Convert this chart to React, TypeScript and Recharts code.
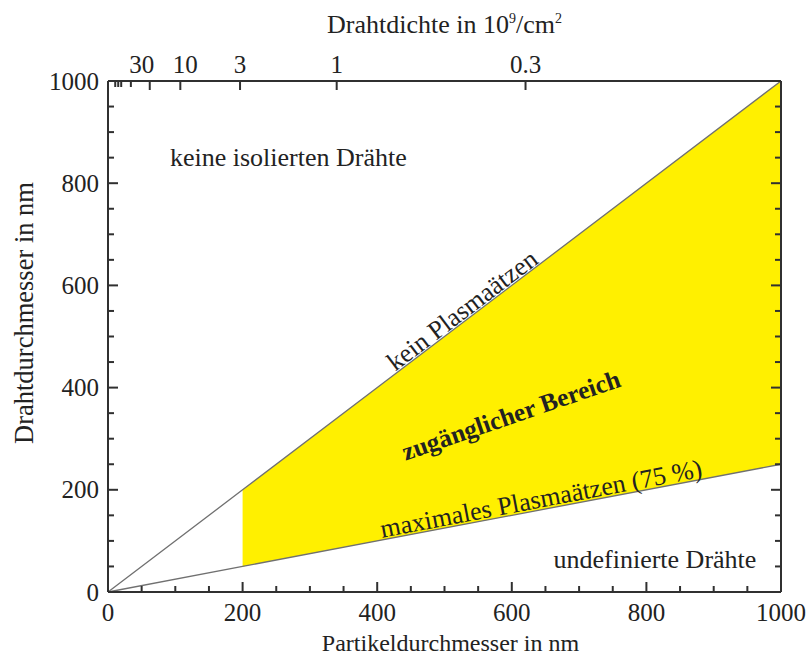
import React from 'react';
import { ComposedChart, Line, Area, XAxis, YAxis, ReferenceDot } from 'recharts';

// particle diameter (nm) and the two limiting wire diameters (nm)
const particleNm = [0, 200, 1000];
const noEtchNm = [0, 200, 1000];
const maxEtchNm = [0, 50, 250];
const accessibleFrom = 200;

// axis ticks
const diameterTicks = [0, 50, 100, 150, 200, 250, 300, 350, 400, 450, 500, 550, 600, 650, 700, 750, 800, 850, 900, 950, 1000];
const densityLabels = ['30', '10', '3', '1', '0.3'];
const densityMajor = [30, 10, 3, 1, 0.3];
const densityMinor = [1000, 500, 300, 100];
// small sideways nudges so "30" and "10" don't collide
const labelNudge: Record<string, number> = { '30': -8, '10': 5 };

const FONT = '"Liberation Serif", "Times New Roman", serif';
const AXIS = '#303030';
const TEXT = '#222222';

const W = 808;
const H = 660;
const M = { left: 108, right: 27, top: 81, bottom: 68 };
const PLOT_W = W - M.left - M.right;
const PLOT_H = H - M.top - M.bottom;

// hexagonal packing: density in 10^9/cm^2 -> spacing in nm
const densityToNm = (n: number) => Math.sqrt(2e5 / (Math.sqrt(3) * n));

const topTicks = [
  ...densityMinor.map(n => ({ d: densityToNm(n), label: '' })),
  ...densityMajor.map((n, i) => ({ d: densityToNm(n), label: densityLabels[i] })),
].sort((a, b) => a.d - b.d);

const rows = particleNm.map((d, i) => ({
  d,
  upper: noEtchNm[i],
  lower: maxEtchNm[i],
  band: d >= accessibleFrom ? [maxEtchNm[i], noEtchNm[i]] : null,
}));

const seg = (x1: number, y1: number, x2: number, y2: number) => (
  <path d={`M${x1},${y1}L${x2},${y2}`} stroke={AXIS} strokeWidth={2} fill="none" />
);

const BottomTick = (props: any) => {
  const x = Number(props.x);
  const y = Number(props.y);
  const v = props.payload.value;
  const major = v % 200 === 0;
  return (
    <g>
      {seg(x, y, x, y - (major ? 10 : 6))}
      {major && (
        <text x={x} y={y + 29} textAnchor="middle" fontFamily={FONT} fontSize={25} fill={TEXT}>
          {v}
        </text>
      )}
    </g>
  );
};

// left tick + mirrored tick on the right edge; the top tick also closes the frame
const LeftTick = (props: any) => {
  const x = Number(props.x);
  const y = Number(props.y);
  const v = props.payload.value;
  const major = v % 200 === 0;
  const len = major ? 10 : 6;
  const xr = x + PLOT_W;
  return (
    <g>
      {seg(x, y, x + len, y)}
      {seg(xr, y, xr - len, y)}
      {v === 1000 && seg(x, y, xr, y)}
      {v === 1000 && seg(xr, y, xr, y + PLOT_H)}
      {major && (
        <text x={x - 9} y={y + 8.5} textAnchor="end" fontFamily={FONT} fontSize={25} fill={TEXT}>
          {v}
        </text>
      )}
    </g>
  );
};

const TopTick = (props: any) => {
  const x = Number(props.x);
  const y = Number(props.y);
  const v = props.payload.value;
  const t = topTicks.reduce((best, c) => (Math.abs(c.d - v) < Math.abs(best.d - v) ? c : best), topTicks[0]);
  return (
    <g>
      {seg(x, y, x, y + (t.label ? 9 : 6))}
      {t.label && (
        <text x={x + (labelNudge[t.label] || 0)} y={y - 8} textAnchor="middle" fontFamily={FONT} fontSize={25} fill={TEXT}>
          {t.label}
        </text>
      )}
    </g>
  );
};

const TopTitle = (props: any) => {
  const vb = props.viewBox;
  return (
    <text x={vb.x + vb.width / 2} y={vb.y + 33} textAnchor="middle" fontFamily={FONT} fontSize={26} fill={TEXT}>
      Drahtdichte in 10
      <tspan dy={-10} fontSize={14}>9</tspan>
      <tspan dy={10}>/cm</tspan>
      <tspan dy={-10} fontSize={14}>2</tspan>
    </text>
  );
};

const BottomTitle = (props: any) => {
  const vb = props.viewBox;
  return (
    <text x={vb.x + vb.width / 2 + 6} y={651} textAnchor="middle" fontFamily={FONT} fontSize={24} fill={TEXT}>
      Partikeldurchmesser in nm
    </text>
  );
};

const LeftTitle = () => {
  const x = 33;
  const y = 313;
  return (
    <text x={x} y={y} transform={`rotate(-90 ${x} ${y})`} textAnchor="middle" fontFamily={FONT} fontSize={26.5} fill={TEXT}>
      Drahtdurchmesser in nm
    </text>
  );
};

const Note = (props: any) => {
  const { viewBox, txt, rot = 0, align = 'middle', heavy } = props;
  const x = Number(viewBox.x);
  const y = Number(viewBox.y);
  return (
    <text
      x={x}
      y={y}
      transform={`rotate(${rot} ${x} ${y})`}
      textAnchor={align}
      fontFamily={FONT}
      fontSize={heavy ? 25.5 : 26}
      fontWeight={heavy ? 'bold' : 'normal'}
      fill={TEXT}
    >
      {txt}
    </text>
  );
};

const notes = [
  { x: 92, y: 834, txt: 'keine isolierten Drähte', rot: 0, align: 'start' },
  { x: 662, y: 46, txt: 'undefinierte Drähte', rot: 0, align: 'start' },
  { x: 534, y: 538, txt: 'kein Plasmaätzen', rot: -37.2, align: 'middle' },
  { x: 603, y: 330, txt: 'zugänglicher Bereich', rot: -19, align: 'middle', heavy: true },
  { x: 646, y: 166, txt: 'maximales Plasmaätzen (75 %)', rot: -10.8, align: 'middle' },
];

export default function App() {
  return (
    <div style={{ position: 'absolute', left: 0, top: 0, width: W, height: H, background: '#fff' }}>
      <ComposedChart width={W} height={H} data={rows} margin={{ top: 0, right: M.right, bottom: 0, left: 0 }}>
        <XAxis
          xAxisId="bottom"
          dataKey="d"
          type="number"
          domain={[0, 1000]}
          ticks={diameterTicks}
          interval={0}
          height={M.bottom}
          tickSize={0}
          tickMargin={0}
          tickLine={false}
          tick={<BottomTick />}
          axisLine={{ stroke: AXIS, strokeWidth: 2 }}
          label={<BottomTitle />}
        />
        <XAxis
          xAxisId="top"
          dataKey="d"
          orientation="top"
          type="number"
          domain={[0, 1000]}
          allowDataOverflow
          ticks={topTicks.map(t => t.d)}
          interval={0}
          height={M.top}
          tickSize={0}
          tickMargin={0}
          tickLine={false}
          tick={<TopTick />}
          axisLine={false}
          label={<TopTitle />}
        />
        <YAxis
          yAxisId="left"
          type="number"
          domain={[0, 1000]}
          ticks={diameterTicks}
          interval={0}
          width={M.left}
          tickSize={0}
          tickMargin={0}
          tickLine={false}
          tick={<LeftTick />}
          axisLine={{ stroke: AXIS, strokeWidth: 2 }}
          label={<LeftTitle />}
        />
        <Area
          xAxisId="bottom"
          yAxisId="left"
          dataKey="band"
          type="linear"
          stroke="none"
          fill="#FFF000"
          fillOpacity={1}
          isAnimationActive={false}
          dot={false}
          activeDot={false}
        />
        <Line
          xAxisId="bottom"
          yAxisId="left"
          dataKey="upper"
          type="linear"
          stroke="#707070"
          strokeWidth={1.3}
          dot={false}
          activeDot={false}
          isAnimationActive={false}
        />
        <Line
          xAxisId="bottom"
          yAxisId="left"
          dataKey="lower"
          type="linear"
          stroke="#707070"
          strokeWidth={1.3}
          dot={false}
          activeDot={false}
          isAnimationActive={false}
        />
        {/* invisible series so the top density axis gets a scale */}
        <Line
          xAxisId="top"
          yAxisId="left"
          dataKey="upper"
          type="linear"
          stroke="none"
          dot={false}
          activeDot={false}
          isAnimationActive={false}
          legendType="none"
        />
        {notes.map(n => (
          <ReferenceDot
            key={n.txt}
            xAxisId="bottom"
            yAxisId="left"
            x={n.x}
            y={n.y}
            r={0}
            fill="none"
            stroke="none"
            label={<Note txt={n.txt} rot={n.rot} align={n.align} heavy={n.heavy} />}
          />
        ))}
      </ComposedChart>
    </div>
  );
}
